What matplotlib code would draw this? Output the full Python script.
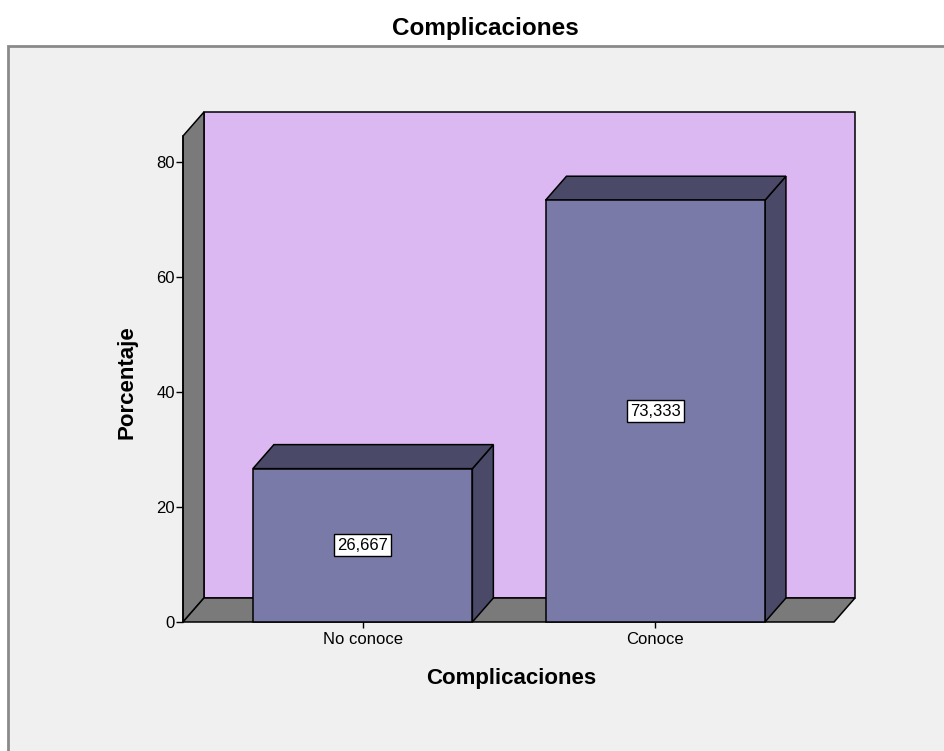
import matplotlib.pyplot as plt
from matplotlib.patches import Polygon, Rectangle

plt.rcParams['font.family'] = ['Liberation Sans', 'DejaVu Sans']

categories = ["No conoce", "Conoce"]
percentages = [26.667, 73.333]
value_labels = ["26,667", "73,333"]
y_ticks = [0, 20, 40, 60, 80]

wall_color = "#dcb8f2"
side_color = "#7a7a7a"
bar_front = "#7a7aa8"
bar_dark = "#4a4a68"
frame_bg = "#f0f0f0"

fig = plt.figure(figsize=(9.45, 7.51), dpi=100)
fig.patch.set_facecolor("white")

# light grey chart frame under the title
fig.patches.append(Rectangle((8 / 945, -0.01), 1.0, (751 - 46) / 751 + 0.01,
                             transform=fig.transFigure, facecolor=frame_bg,
                             edgecolor="#8a8a8a", linewidth=2, zorder=-10))

ax = fig.add_axes([183 / 945, (751 - 622) / 751, 672 / 945, 510 / 751])
ax.set_facecolor("none")

x0, x1 = -0.614, 1.611      # floor front edge, category units
top = 84.5                  # wall height at the front plane
dx, dy = 21 / 293, 24 / 5.75  # depth offset
width = 0.75

ax.set_xlim(x0, x1 + dx)
ax.set_ylim(0, top + dy)

ek = dict(edgecolor="black", linewidth=1.1, joinstyle="miter", clip_on=False)
# back wall, left wall and floor
ax.add_patch(Rectangle((x0 + dx, dy), x1 - x0, top, facecolor=wall_color, **ek))
ax.add_patch(Polygon([(x0, 0), (x0 + dx, dy), (x0 + dx, top + dy), (x0, top)],
                     facecolor=side_color, **ek))
ax.add_patch(Polygon([(x0, 0), (x1, 0), (x1 + dx, dy), (x0 + dx, dy)],
                     facecolor=side_color, **ek))

for i, (v, lab) in enumerate(zip(percentages, value_labels)):
    l, r = i - width / 2, i + width / 2
    ax.add_patch(Polygon([(r, 0), (r + dx, dy), (r + dx, v + dy), (r, v)],
                         facecolor=bar_dark, **ek))
    ax.add_patch(Polygon([(l, v), (r, v), (r + dx, v + dy), (l + dx, v + dy)],
                         facecolor=bar_dark, **ek))
    ax.add_patch(Rectangle((l, 0), width, v, facecolor=bar_front, **ek))
    ax.text(i, v / 2, lab, ha="center", va="center", fontsize=12,
            bbox=dict(boxstyle="square,pad=0.2", facecolor="white",
                      edgecolor="black", linewidth=1))

for s in ["top", "right", "bottom"]:
    ax.spines[s].set_visible(False)
ax.spines["left"].set_bounds(0, top)
ax.spines["left"].set_linewidth(1.1)

ax.set_yticks(y_ticks)
ax.set_xticks(range(len(categories)))
ax.set_xticklabels(categories)
ax.tick_params(axis="y", length=5, width=1, labelsize=12, pad=1)
ax.tick_params(axis="x", length=4, width=1, labelsize=12, pad=3)

ax.set_xlabel("Complicaciones", fontsize=16, fontweight="bold")
ax.set_ylabel("Porcentaje", fontsize=16, fontweight="bold")
ax.xaxis.set_label_coords(0.488, -0.090)
ax.yaxis.set_label_coords(-0.068, 0.47)
fig.text(485 / 945, 1 - 29 / 751, "Complicaciones", ha="center", va="center",
         fontsize=17.5, fontweight="bold")

fig.savefig("out.png", dpi=100)
